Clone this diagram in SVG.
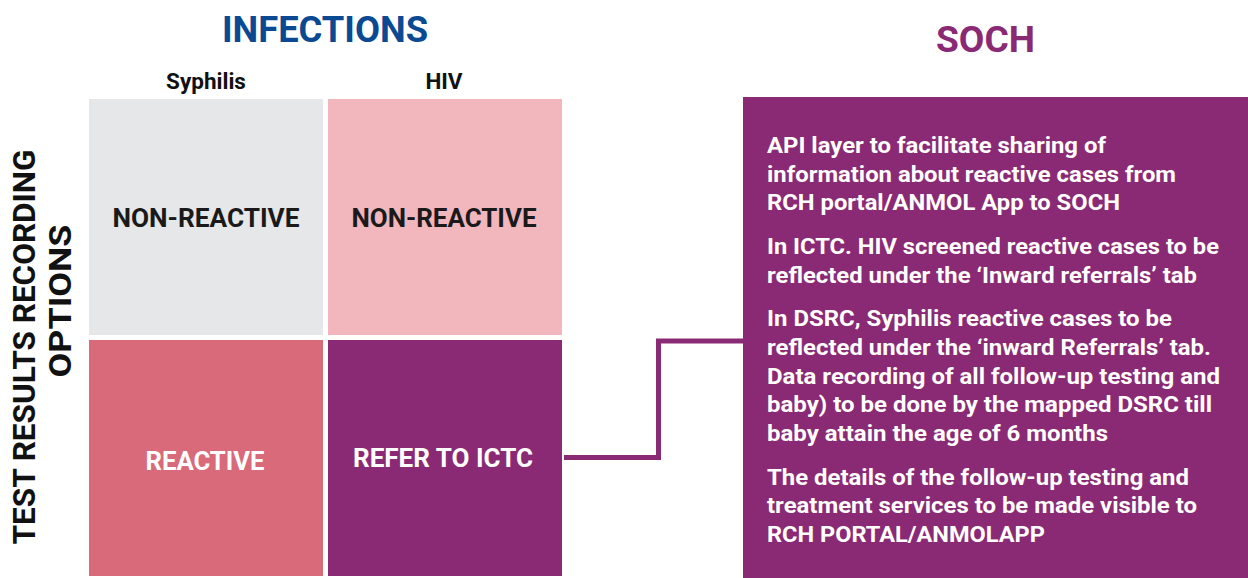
<svg xmlns="http://www.w3.org/2000/svg" width="1248" height="578" viewBox="0 0 1248 578">
<style>
text{font-family:Roboto,"Liberation Sans",sans-serif;font-weight:700}
.hd{font-size:37.5px}
.col{font-size:22.5px;fill:#111111;text-anchor:middle}
.cell{font-size:26px;text-anchor:middle}
.dark{fill:#1a1a1a}
.wt{fill:#ffffff}
.body{font-size:22.5px;fill:#ffffff}
.side{font-size:32px;fill:#111111;text-anchor:middle}
</style>
<rect width="1248" height="578" fill="#ffffff"/>
<g id="title-infections"><text class="hd" x="325" y="42" fill="#0B4A92" text-anchor="middle" textLength="206" lengthAdjust="spacingAndGlyphs">INFECTIONS</text></g>
<g id="title-soch"><text class="hd" x="985.5" y="52" fill="#8A2A75" text-anchor="middle" textLength="99" lengthAdjust="spacingAndGlyphs">SOCH</text></g>
<g id="col-syphilis"><text class="col" x="206" y="89">Syphilis</text></g>
<g id="col-hiv"><text class="col" x="444" y="89">HIV</text></g>
<g id="row-label"><text class="side" transform="translate(35,347) rotate(-90)" textLength="395" lengthAdjust="spacingAndGlyphs">TEST RESULTS RECORDING</text><text class="side" transform="translate(71,301) rotate(-90)" textLength="153" lengthAdjust="spacingAndGlyphs">OPTIONS</text></g>
<g id="cell-syphilis-nonreactive"><rect x="89" y="99" width="234" height="236" fill="#E6E7E8"/><text class="cell dark" x="206" y="226.5" textLength="187" lengthAdjust="spacingAndGlyphs">NON-REACTIVE</text></g>
<g id="cell-hiv-nonreactive"><rect x="328" y="99" width="234" height="236" fill="#F2B6BD"/><text class="cell dark" x="444" y="226.5" textLength="185" lengthAdjust="spacingAndGlyphs">NON-REACTIVE</text></g>
<g id="cell-syphilis-reactive"><rect x="89" y="340" width="234" height="236" fill="#D96A7A"/><text class="cell wt" x="205" y="470" textLength="119" lengthAdjust="spacingAndGlyphs">REACTIVE</text></g>
<g id="cell-hiv-refer"><rect x="328" y="340" width="234" height="236" fill="#8A2A75"/><text class="cell wt" x="443" y="467" textLength="180" lengthAdjust="spacingAndGlyphs">REFER TO ICTC</text></g>
<g id="connectors"><polyline points="564,457.5 658.5,457.5 658.5,341 745,341" fill="none" stroke="#8A2A75" stroke-width="5"/></g>
<g id="soch-box"><rect x="743" y="97" width="505" height="481" fill="#8A2A75"/>
<text class="body" x="767" y="153" textLength="339" lengthAdjust="spacingAndGlyphs">API layer to facilitate sharing of</text>
<text class="body" x="767" y="181.5" textLength="409" lengthAdjust="spacingAndGlyphs">information about reactive cases from</text>
<text class="body" x="767" y="210" textLength="353" lengthAdjust="spacingAndGlyphs">RCH portal/ANMOL App to SOCH</text>
<text class="body" x="767" y="254" textLength="452" lengthAdjust="spacingAndGlyphs">In ICTC. HIV screened reactive cases to be</text>
<text class="body" x="767" y="282.5" textLength="430" lengthAdjust="spacingAndGlyphs">reflected under the ‘Inward referrals’ tab</text>
<text class="body" x="767" y="326" textLength="405" lengthAdjust="spacingAndGlyphs">In DSRC, Syphilis reactive cases to be</text>
<text class="body" x="767" y="355" textLength="444" lengthAdjust="spacingAndGlyphs">reflected under the ‘inward Referrals’ tab.</text>
<text class="body" x="767" y="383.5" textLength="453" lengthAdjust="spacingAndGlyphs">Data recording of all follow-up testing and</text>
<text class="body" x="767" y="412" textLength="445" lengthAdjust="spacingAndGlyphs">baby) to be done by the mapped DSRC till</text>
<text class="body" x="767" y="440.5" textLength="341" lengthAdjust="spacingAndGlyphs">baby attain the age of 6 months</text>
<text class="body" x="767" y="484.5" textLength="422" lengthAdjust="spacingAndGlyphs">The details of the follow-up testing and</text>
<text class="body" x="767" y="513" textLength="430" lengthAdjust="spacingAndGlyphs">treatment services to be made visible to</text>
<text class="body" x="767" y="541.5" textLength="278" lengthAdjust="spacingAndGlyphs">RCH PORTAL/ANMOLAPP</text>
</g>
</svg>
